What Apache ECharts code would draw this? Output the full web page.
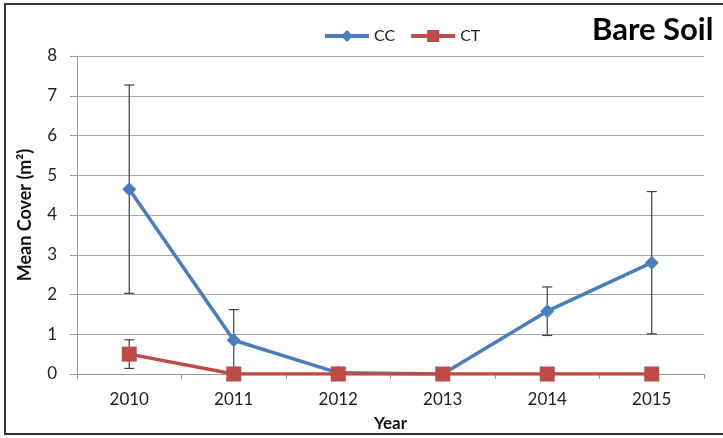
<!DOCTYPE html>
<html>
<head>
<meta charset="utf-8">
<script src="https://cdn.jsdelivr.net/npm/echarts@6/dist/echarts.min.js"></script>
<style>html,body{margin:0;padding:0;background:#fff;}#c{width:723px;height:438px;}</style>
</head>
<body>
<div id="c"></div>
<script>
var years = ['2010', '2011', '2012', '2013', '2014', '2015'];
var ccMean = [4.65, 0.85, 0.03, 0, 1.58, 2.80];
var ccErr = [2.62, 0.77, 0, 0, 0.61, 1.79];
var ctMean = [0.50, 0, 0, 0, 0, 0];
var ctErr = [0.36, 0, 0, 0, 0, 0];
var yTicks = [0, 1, 2, 3, 4, 5, 6, 7, 8];

function errData(mean, err) {
  var out = [];
  for (var i = 0; i < mean.length; i++) {
    if (err[i] > 0) out.push([i, mean[i] - err[i], mean[i] + err[i]]);
  }
  return out;
}
function renderErr(params, api) {
  var x = api.value(0);
  var lo = api.coord([x, api.value(1)]);
  var hi = api.coord([x, api.value(2)]);
  var hw = 5;
  var st = {stroke: '#404040', lineWidth: 1.2};
  return {
    type: 'group',
    children: [
      {type: 'line', shape: {x1: lo[0], y1: lo[1], x2: hi[0], y2: hi[1]}, style: st},
      {type: 'line', shape: {x1: lo[0] - hw, y1: lo[1], x2: lo[0] + hw, y2: lo[1]}, style: st},
      {type: 'line', shape: {x1: hi[0] - hw, y1: hi[1], x2: hi[0] + hw, y2: hi[1]}, style: st}
    ]
  };
}

var chart = echarts.init(document.getElementById('c'), null, {renderer: 'canvas'});
var font = 'Lato, "Open Sans", sans-serif';
chart.setOption({
  animation: false,
  backgroundColor: '#fff',
  textStyle: {fontFamily: font},
  graphic: [
    {type: 'rect', shape: {x: 5, y: 4, width: 730, height: 430}, style: {fill: 'none', stroke: '#333', lineWidth: 2}, z: 100},
    {type: 'text', left: 592, top: 14, style: {text: 'Bare Soil', font: 'bold 31px ' + font, fill: '#000'}}
  ],
  legend: {
    top: 23, left: 318,
    itemWidth: 44, itemHeight: 15, itemGap: 14,
    lineStyle: {width: 4},
    textStyle: {fontSize: 16, color: '#222', fontFamily: font},
    data: ['CC', 'CT']
  },
  grid: {left: 77, right: 19, top: 56, bottom: 64, outerBoundsMode: 'none', containLabel: false},
  xAxis: {
    type: 'category', data: years, boundaryGap: true,
    name: 'Year', nameLocation: 'middle', nameGap: 41,
    nameTextStyle: {fontWeight: 'bold', fontSize: 17, color: '#111', fontFamily: font},
    axisLine: {lineStyle: {color: '#999'}},
    axisTick: {show: true, length: 5, lineStyle: {color: '#999'}},
    axisLabel: {fontSize: 17, color: '#222', margin: 17, fontFamily: font},
  },
  yAxis: {
    type: 'value', min: 0, max: 8, interval: 1,
    name: 'Mean Cover (m²)', nameLocation: 'middle', nameGap: 43,
    nameTextStyle: {fontWeight: 'bold', fontSize: 18, color: '#111', fontFamily: font},
    axisLine: {show: true, lineStyle: {color: '#999'}},
    axisTick: {show: true, length: 7, lineStyle: {color: '#999'}},
    axisLabel: {fontSize: 17, color: '#222', margin: 20, fontFamily: font,
      formatter: function (v) { return yTicks.indexOf(v) >= 0 ? String(v) : ''; }},
    splitLine: {lineStyle: {color: '#a6a6a6', width: 1}}
  },
  series: [
    {type: 'custom', name: 'ccErr', renderItem: renderErr, data: errData(ccMean, ccErr), z: 1, silent: true, encode: {x: 0, y: [1, 2]}},
    {type: 'custom', name: 'ctErr', renderItem: renderErr, data: errData(ctMean, ctErr), z: 1, silent: true, encode: {x: 0, y: [1, 2]}},
    {name: 'CC', type: 'line', data: ccMean, symbol: 'diamond', symbolSize: 14,
      lineStyle: {color: '#4a7ebb', width: 3.5}, itemStyle: {color: '#4a7ebb'}, z: 3},
    {name: 'CT', type: 'line', data: ctMean, symbol: 'rect', symbolSize: 15,
      lineStyle: {color: '#be4b48', width: 3.5}, itemStyle: {color: '#be4b48'}, z: 4}
  ]
});
</script>
</body>
</html>
